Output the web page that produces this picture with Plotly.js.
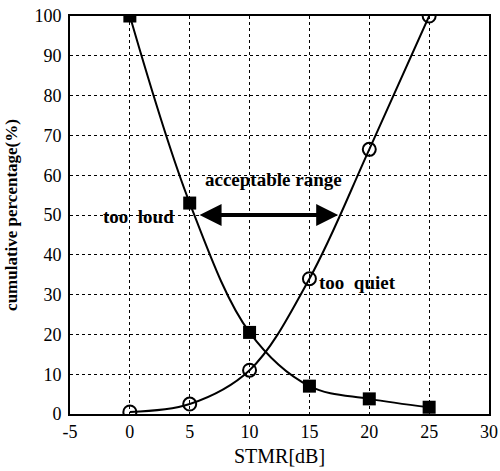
<!DOCTYPE html>
<html><head><meta charset="utf-8">
<script src="https://cdn.plot.ly/plotly-3.0.1.min.js"></script>
<style>body{margin:0;background:#fff}#chart{width:500px;height:471px}</style>
</head><body><div id="chart"></div>
<script>
const stmr = [0, 5, 10, 15, 20, 25];
const tooLoud = [100, 53, 20.5, 7, 3.8, 1.7];
const tooQuiet = [0.5, 2.5, 11, 34, 66.5, 100];
const xTicks = [-5, 0, 5, 10, 15, 20, 25, 30];
const yTicks = [0, 10, 20, 30, 40, 50, 60, 70, 80, 90, 100];
const arrowRange = [5.7, 17.4];
const arrowLevel = 50;

const serif = 'Liberation Serif, Times New Roman, serif';
const traces = [
  {x: stmr, y: tooLoud, mode: 'lines+markers', name: 'too loud',
   line: {color: '#000', width: 2, shape: 'spline', smoothing: 1},
   marker: {symbol: 'square', size: 13, color: '#000'}},
  {x: stmr, y: tooQuiet, mode: 'lines+markers', name: 'too quiet',
   line: {color: '#000', width: 2, shape: 'spline', smoothing: 1},
   marker: {symbol: 'circle-open', size: 13, color: '#000', line: {width: 2, color: '#000'}}}
];
const ax = {
  showline: true, mirror: true, linecolor: '#000', linewidth: 2,
  showgrid: true, gridcolor: '#000', gridwidth: 1, griddash: 'dot',
  zeroline: false, ticks: '', tickfont: {family: serif, size: 18, color: '#000'},
  ticklabeloverflow: 'allow'
};
const layout = {
  width: 500, height: 471,
  margin: {l: 70, r: 11, t: 16, b: 57},
  paper_bgcolor: '#fff', plot_bgcolor: '#fff',
  showlegend: false,
  xaxis: Object.assign({}, ax, {range: [-5, 30], tickvals: xTicks, ticktext: xTicks.map(String),
    title: {text: 'STMR[dB]', font: {family: serif, size: 20, color: '#000'}, standoff: 8}}),
  yaxis: Object.assign({}, ax, {range: [0, 100], tickvals: yTicks, ticktext: yTicks.map(String),
    ticklabelstandoff: 3,
    title: {text: '<b>cumulative percentage(%)</b>', font: {family: serif, size: 17, color: '#000'}, standoff: 12}}),
  annotations: [
    {x: arrowRange[1], y: arrowLevel, ax: arrowRange[0], ay: arrowLevel, xref: 'x', yref: 'y', axref: 'x', ayref: 'y',
     text: '', showarrow: true, arrowhead: 2, startarrowhead: 2, arrowside: 'end+start', arrowwidth: 4, arrowsize: 1.1, startarrowsize: 1.1, arrowcolor: '#000'},
    {x: 12, y: 59, xref: 'x', yref: 'y', text: '<b>acceptable range</b>', showarrow: false,
     font: {family: serif, size: 19, color: '#000'}},
    {x: 0.75, y: 49.5, xref: 'x', yref: 'y', text: '<b>too  loud</b>', showarrow: false,
     font: {family: serif, size: 19, color: '#000'}},
    {x: 19, y: 33, xref: 'x', yref: 'y', text: '<b>too  quiet</b>', showarrow: false,
     font: {family: serif, size: 19, color: '#000'}}
  ]
};
Plotly.newPlot('chart', traces, layout, {displayModeBar: false, staticPlot: true});
</script></body></html>
